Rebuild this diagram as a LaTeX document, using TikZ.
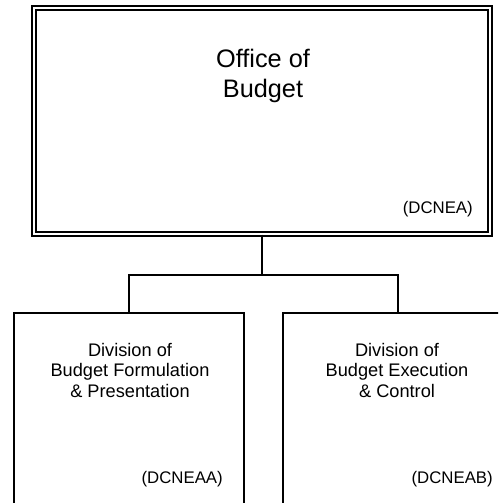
\documentclass[tikz,border=0pt]{standalone}
\usepackage{fontspec}
\setmainfont{Liberation Sans}
\begin{document}
\begin{tikzpicture}[x=1pt,y=-1pt,
  topbox/.style={draw, line width=1.2pt, double, double distance=2.8pt, inner sep=0pt,
    minimum width=456pt, minimum height=226pt},
  divbox/.style={draw, line width=1.4pt, inner sep=0pt, minimum width=230pt, minimum height=240pt},
  conn/.style={line width=1.4pt},
  bigtxt/.style={font=\fontsize{25.3}{30}\selectfont, align=center, inner sep=0pt},
  divtxt/.style={font=\fontsize{18.2}{20.7}\selectfont, align=center, inner sep=0pt},
  codetxt/.style={font=\fontsize{16.8}{20}\selectfont, inner sep=0pt}]
\clip (0,0) rectangle (498,503);
\fill[white] (0,0) rectangle (498,503);
\node[topbox] (top) at (262,121) {};
\node[divbox] (left) at (129,433) {};
\node[divbox] (right) at (398,433) {};
\coordinate (j) at (262,275);
\draw[conn] (top.south) -- (j);
\draw[conn] (left.north) |- (j) -| (right.north);
\node[bigtxt, anchor=base] (t1) at (263,97) {Office of\\Budget};
\node[codetxt, anchor=base east] (c1) at (473,213) {(DCNEA)};
\node[divtxt, anchor=base] (d1) at (130,397.5) {Division of\\Budget Formulation\\\& Presentation};
\node[divtxt, anchor=base] (d2) at (397,397.5) {Division of\\Budget Execution\\\& Control};
\node[codetxt, anchor=base east] (c2) at (223,483) {(DCNEAA)};
\node[codetxt, anchor=base east] (c3) at (493,483) {(DCNEAB)};
\end{tikzpicture}
\end{document}
